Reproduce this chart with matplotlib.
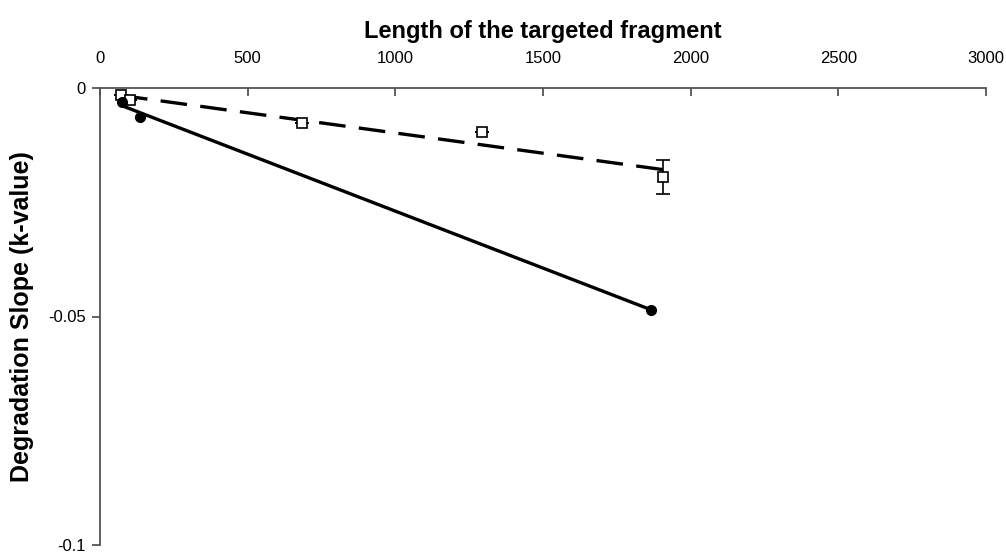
import matplotlib
matplotlib.use("Agg")
import matplotlib.pyplot as plt
import numpy as np

plt.rcParams["font.family"] = ["Liberation Sans", "DejaVu Sans"]

# open squares (dashed trend)
sq_x = [71, 102, 684, 1294, 1907]
sq_y = [-0.0015, -0.0026, -0.0076, -0.0097, -0.0195]
sq_err = [0, 0, 0, 0, 0.0038]

# filled circles (solid trend)
ci_x = [75, 135, 1866]
ci_y = [-0.0030, -0.0063, -0.0485]

x_ticks = [0, 500, 1000, 1500, 2000, 2500, 3000]
y_ticks = [0, -0.05, -0.1]
y_tick_labels = ["0", "-0.05", "-0.1"]

fig = plt.figure(figsize=(10.06, 5.56), dpi=100)
ax = fig.add_axes([100 / 1006, 1 - 545 / 556, 886 / 1006, 457 / 556])

# linear trend lines
for xs, ys, ls in [(sq_x, sq_y, (0, (8, 4))), (ci_x, ci_y, "-")]:
    k, b = np.polyfit(xs, ys, 1)
    xx = np.array([min(xs), max(xs)])
    ax.plot(xx, k * xx + b, color="black", lw=2.4, linestyle=ls, zorder=2)

ax.errorbar(sq_x, sq_y, yerr=sq_err, fmt="s", ms=7, mfc="white", mec="black",
            mew=1.2, ecolor="black", elinewidth=1.2, capsize=5, capthick=1.2, zorder=3)
ax.plot(ci_x, ci_y, "o", ms=7, color="black", zorder=4)

ax.set_xlim(0, 3000)
ax.set_ylim(-0.1, 0)
ax.set_xticks(x_ticks)
ax.set_yticks(y_ticks)
ax.set_yticklabels(y_tick_labels)

ax.xaxis.set_ticks_position("top")
ax.xaxis.set_label_position("top")
ax.spines["bottom"].set_visible(False)
ax.spines["right"].set_visible(False)
for s in ("top", "left"):
    ax.spines[s].set_color("#555555")
    ax.spines[s].set_linewidth(1.3)
ax.tick_params(axis="x", direction="in", length=6, width=1.3, color="#555555",
               labelsize=12, pad=16)
ax.tick_params(axis="y", direction="out", length=6, width=1.3, color="#555555",
               labelsize=12, pad=4)

ax.set_xlabel("Length of the targeted fragment", fontsize=17, fontweight="bold", labelpad=9)
ax.set_ylabel("Degradation Slope (k-value)", fontsize=18, fontweight="bold", labelpad=10)

fig.savefig("out.png", dpi=100)
